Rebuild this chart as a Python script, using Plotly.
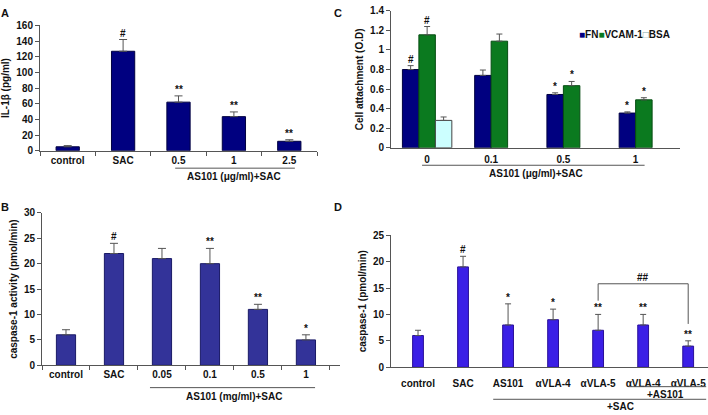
import plotly.graph_objects as go

FONT = "Liberation Sans, Arial, sans-serif"

# ---------------- data ----------------
# Panel A: IL-1beta
a_cats = ["control", "SAC", "0.5", "1", "2.5"]
a_vals = [5, 127, 62, 43.5, 12]
a_err = [1.5, 15, 8, 6, 2]
a_sig = ["", "#", "**", "**", "**"]

# Panel B: caspase-1 activity
b_cats = ["control", "SAC", "0.05", "0.1", "0.5", "1"]
b_vals = [6, 22, 21, 20, 11, 5]
b_err = [1, 2, 2, 3, 1, 1]
b_sig = ["", "#", "", "**", "**", "*"]

# Panel C: cell attachment
c_cats = ["0", "0.1", "0.5", "1"]
c_fn = [0.80, 0.74, 0.545, 0.355]
c_fn_err = [0.04, 0.055, 0.017, 0.012]
c_vcam = [1.155, 1.09, 0.635, 0.49]
c_vcam_err = [0.085, 0.073, 0.043, 0.022]
c_bsa = [0.28, None, None, None]
c_bsa_err = [0.035, 0, 0, 0]
c_fn_sig = ["#", "", "*", "*"]
c_vcam_sig = ["#", "", "*", "*"]

# Panel D: caspase-1
d_cats = ["control", "SAC", "AS101", "αVLA-4", "αVLA-5", "αVLA-4", "αVLA-5"]
d_vals = [6, 19, 8, 9, 7, 8, 4]
d_err = [1, 2, 4, 2, 3, 2, 1]
d_sig = ["", "#", "*", "*", "**", "**", "**"]

# ---------------- styles ----------------
COL_A = "#000080"
COL_B = "#333399"
COL_D = "#3b1fe6"
COL_FN = "#000080"
COL_VCAM = "#0b7a1f"
COL_BSA = "#ccffff"
AX = "#555555"


def px_x(p):
    return p / 708.0


def px_y(p):
    return 1 - p / 415.0


def errbar(err, width=4):
    return dict(type="data", array=err, arrayminus=[0] * len(err), symmetric=False,
                color=AX, thickness=1, width=width, visible=True)


fig = go.Figure()

# A
fig.add_trace(go.Bar(x=a_cats, y=a_vals, width=0.42, marker=dict(color=COL_A, line=dict(color="#000040", width=1)),
                     error_y=errbar(a_err, 4), xaxis="x", yaxis="y", showlegend=False))
# B
fig.add_trace(go.Bar(x=b_cats, y=b_vals, width=0.40, marker=dict(color=COL_B, line=dict(color="#1a1a66", width=1)),
                     error_y=errbar(b_err, 4), xaxis="x2", yaxis="y2", showlegend=False))
# C
cidx = list(range(len(c_cats)))
cw = 0.228
for vals, errs, col, lc, off, name in [
    (c_fn, c_fn_err, COL_FN, "#000040", -1.5 * cw, "FN"),
    (c_vcam, c_vcam_err, COL_VCAM, "#064d12", -0.5 * cw, "VCAM-1"),
    (c_bsa, c_bsa_err, COL_BSA, "#444444", 0.5 * cw, "BSA"),
]:
    fig.add_trace(go.Bar(x=cidx, y=vals, width=cw, offset=off, name=name,
                         marker=dict(color=col, line=dict(color=lc, width=1)),
                         error_y=errbar(errs, 3), xaxis="x3", yaxis="y3", showlegend=False))
# D
didx = list(range(len(d_cats)))
fig.add_trace(go.Bar(x=didx, y=d_vals, width=0.24, marker=dict(color=COL_D, line=dict(color="#2a1099", width=1)),
                     error_y=errbar(d_err, 3), xaxis="x4", yaxis="y4", showlegend=False))

tickfont = dict(family=FONT, size=10, color="#111111", weight="bold")
titlefont = dict(family=FONT, size=10, color="#111111", weight="bold")

common_y = dict(showline=True, linecolor=AX, linewidth=1, ticks="outside", ticklen=4, tickcolor=AX,
                showgrid=False, zeroline=False, tickfont=tickfont)
common_x = dict(showline=True, linecolor=AX, linewidth=1, showgrid=False, zeroline=False, tickfont=tickfont)

fig.update_layout(
    width=708, height=415, margin=dict(l=0, r=0, t=0, b=0),
    paper_bgcolor="white", plot_bgcolor="white", barmode="overlay",
    font=dict(family=FONT, size=10, color="#111111", weight="bold"),
    xaxis=dict(domain=[px_x(40), px_x(317)], anchor="y", type="category", range=[-0.5, 4.5],
               ticks="outside", tickson="boundaries", ticklen=4, tickcolor=AX, **common_x),
    yaxis=dict(domain=[px_y(149), px_y(20)], anchor="x", range=[0, 160], dtick=20,
               title=dict(text="IL-1β (pg/ml)", font=titlefont, standoff=4), **common_y),
    xaxis2=dict(domain=[px_x(42), px_x(340)], anchor="y2", type="category", range=[-0.5, 5.71],
                ticks="outside", tickson="boundaries", ticklen=4, tickcolor=AX, **common_x),
    yaxis2=dict(domain=[px_y(370), px_y(213)], anchor="x2", range=[0, 30], dtick=5,
                title=dict(text="caspase-1 activity (pmol/min)", font=titlefont, standoff=4), **common_y),
    xaxis3=dict(domain=[px_x(391), px_x(680)], anchor="y3", range=[-0.5, 3.5],
                tickvals=[0, 1 - 0.5 * cw, 2 - 0.5 * cw, 3 - 0.5 * cw], ticktext=c_cats,
                ticks="outside", ticklen=2, tickcolor="rgba(0,0,0,0)", **common_x),
    yaxis3=dict(domain=[px_y(146), px_y(5)], anchor="x3", range=[0, 1.4], dtick=0.2,
                title=dict(text="Cell attachment (O.D)", font=titlefont, standoff=4), **common_y),
    xaxis4=dict(domain=[px_x(391), px_x(708)], anchor="y4", range=[-0.6, 6.44],
                tickvals=didx, ticktext=d_cats, ticks="outside", ticklen=7, tickcolor="rgba(0,0,0,0)",
                **common_x),
    yaxis4=dict(domain=[px_y(372), px_y(236)], anchor="x4", range=[0, 25], dtick=5,
                title=dict(text="caspase-1 (pmol/min)", font=titlefont, standoff=4), **common_y),
)

ann = []
sigfont = dict(family=FONT, size=10, color="#111111", weight="bold")


def add_sig(xref, yref, xs, tops, sigs):
    for x, t, s in zip(xs, tops, sigs):
        if s:
            ann.append(dict(x=x, y=t, xref=xref, yref=yref, text=s, showarrow=False,
                            yanchor="bottom", yshift=-1, font=sigfont))


add_sig("x", "y", list(range(len(a_cats))), [v + e for v, e in zip(a_vals, a_err)], a_sig)
add_sig("x2", "y2", list(range(len(b_cats))), [v + e for v, e in zip(b_vals, b_err)], b_sig)
add_sig("x3", "y3", [i - cw for i in cidx], [v + e for v, e in zip(c_fn, c_fn_err)], c_fn_sig)
add_sig("x3", "y3", [i for i in cidx], [v + e for v, e in zip(c_vcam, c_vcam_err)], c_vcam_sig)
add_sig("x4", "y4", didx, [v + e for v, e in zip(d_vals, d_err)], d_sig)

# panel letters
for letter, x, y in [("A", 5, 7), ("B", 5, 207), ("C", 338, 7), ("D", 338, 207)]:
    ann.append(dict(x=px_x(x), y=px_y(y), xref="paper", yref="paper", text=letter, showarrow=False,
                    xanchor="center", yanchor="middle", font=dict(family=FONT, size=11, color="#111", weight="bold")))

# group labels under axes
ann += [
    dict(x=3.0, y=px_y(176), xref="x", yref="paper", text="AS101 (μg/ml)+SAC", showarrow=False,
         yanchor="middle", font=sigfont),
    dict(x=3.5, y=px_y(402), xref="x2", yref="paper", text="AS101 (mg/ml)+SAC", showarrow=False,
         yanchor="middle", font=sigfont),
    dict(x=1.5, y=px_y(173), xref="x3", yref="paper", text="AS101 (μg/ml)+SAC", showarrow=False,
         yanchor="middle", font=sigfont),
    dict(x=5.5, y=px_y(400), xref="x4", yref="paper", text="+AS101", showarrow=False,
         yanchor="middle", font=sigfont),
    dict(x=4.5, y=px_y(412), xref="x4", yref="paper", text="+SAC", showarrow=False,
         yanchor="middle", font=sigfont),
    dict(x=5, y=15.8, xref="x4", yref="y4", text="##", showarrow=False, yanchor="bottom", yshift=-1, font=sigfont),
    # legend for panel C
    dict(x=px_x(577), y=px_y(29), xref="paper", yref="paper", xanchor="left", yanchor="middle", showarrow=False,
         text='<span style="color:#000080">■</span>FN<span style="color:#0b7a1f">■</span>VCAM-1'
              '<span style="color:#7fa8a8">□</span>BSA',
         font=dict(family=FONT, size=10, color="#111", weight="bold")),
]

shapes = [
    dict(type="line", xref="x", yref="paper", x0=1.94, x1=4.1, y0=px_y(167), y1=px_y(167), line=dict(color=AX, width=1)),
    dict(type="line", xref="x2", yref="paper", x0=1.75, x1=5.19, y0=px_y(393), y1=px_y(393), line=dict(color=AX, width=1)),
    dict(type="line", xref="x3", yref="paper", x0=-0.07, x1=3.01, y0=px_y(164), y1=px_y(164), line=dict(color=AX, width=1)),
    dict(type="line", xref="x4", yref="paper", x0=4.67, x1=6.4, y0=px_y(392), y1=px_y(392), line=dict(color=AX, width=1)),
    dict(type="line", xref="x4", yref="paper", x0=1.67, x1=6.4, y0=px_y(405), y1=px_y(405), line=dict(color=AX, width=1)),
    dict(type="path", xref="x4", yref="y4", path="M 4,12.6 L 4,15.8 L 6,15.8 L 6,8.2",
         line=dict(color=AX, width=1)),
]

fig.update_layout(annotations=ann, shapes=shapes)
fig.write_html("out.html", config={"displayModeBar": False},
               post_script="document.body.style.margin='0';document.body.style.overflow='hidden';")
